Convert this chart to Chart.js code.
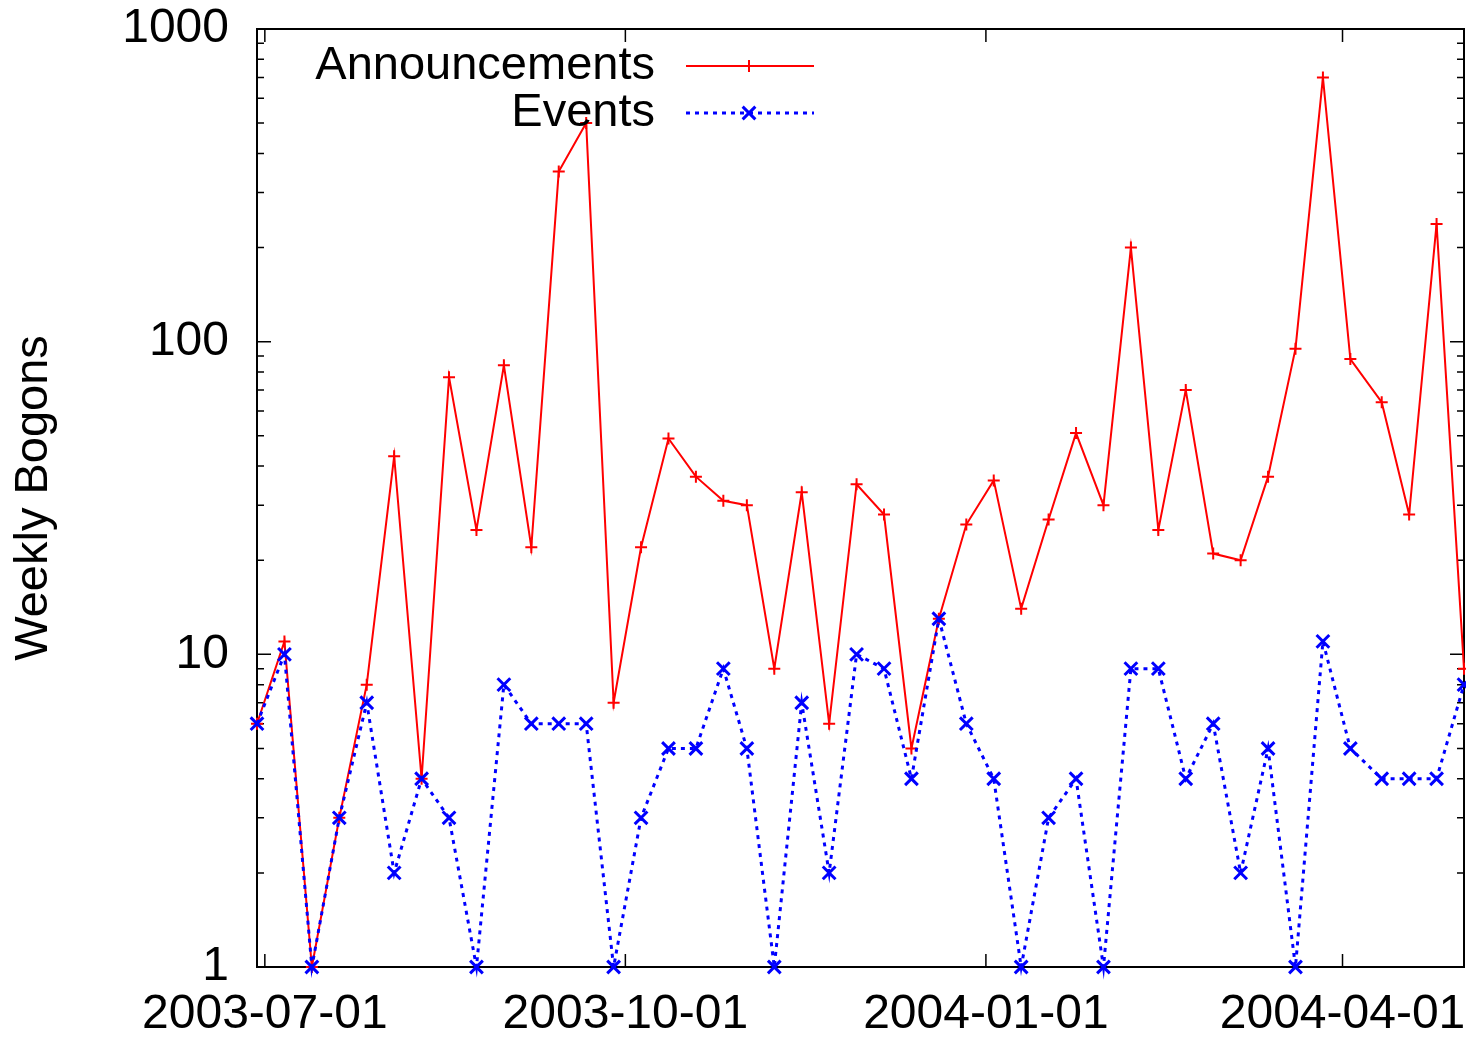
<!DOCTYPE html>
<html><head><meta charset="utf-8">
<script src="https://cdn.jsdelivr.net/npm/chart.js@4/dist/chart.umd.min.js"></script>
<style>html,body{margin:0;padding:0;background:#fff;} #wrap{width:1466px;height:1037px;}</style>
</head><body><div id="wrap"><canvas id="c" width="1466" height="1037"></canvas></div>
<script>
const weekDates = ['2003-06-29','2003-07-06','2003-07-13','2003-07-20','2003-07-27','2003-08-03','2003-08-10','2003-08-17','2003-08-24','2003-08-31',
  '2003-09-07','2003-09-14','2003-09-21','2003-09-28','2003-10-05','2003-10-12','2003-10-19','2003-10-26','2003-11-01','2003-11-08',
  '2003-11-15','2003-11-22','2003-11-29','2003-12-06','2003-12-13','2003-12-20','2003-12-27','2004-01-03','2004-01-10','2004-01-17',
  '2004-01-24','2004-01-31','2004-02-07','2004-02-14','2004-02-21','2004-02-28','2004-03-06','2004-03-13','2004-03-20','2004-03-27',
  '2004-04-03','2004-04-11','2004-04-18','2004-04-25','2004-05-02'];
const announcements = [6,11,1,3,8,43,4,77,25,84,22,350,500,7,22,49,37,31,30,9,33,6,35,28,5,13,26,36,14,27,51,30,200,25,70,21,20,37,95,700,88,64,28,238,9];
const events = [6,10,1,3,7,2,4,3,1,8,6,6,6,1,3,5,5,9,5,1,7,2,10,9,4,13,6,4,1,3,4,1,9,9,4,6,2,5,1,11,5,4,4,4,8];
const xTickLabels = ['2003-07-01','2003-10-01','2004-01-01','2004-04-01'];
const yTickLabels = ['1','10','100','1000'];
const seriesNames = ['Announcements','Events'];
const yAxisTitle = 'Weekly Bogons';

const FONT = '"Liberation Sans", Arial, Helvetica, sans-serif';
function dayNum(s){const p=s.split('-').map(Number);return Date.UTC(p[0],p[1]-1,p[2])/86400000;}
const xMin = dayNum(weekDates[0]), xMax = dayNum(weekDates[weekDates.length-1]);
const yMajor = yTickLabels.map(Number);
const yAll = [];
yMajor.forEach((v,i)=>{ if(i<yMajor.length-1){ for(let k=1;k<10;k++) yAll.push(v*k); } else yAll.push(v); });

const framePlugin = {
  id:'frame',
  beforeDatasetsDraw(chart){
    const {ctx, chartArea:a, scales:{x,y}} = chart;
    ctx.save();
    ctx.strokeStyle='#000'; ctx.lineWidth=1.5;
    ctx.beginPath();
    yAll.forEach(v=>{
      const p=y.getPixelForValue(v);
      const len = yMajor.includes(v) ? 14 : 7;
      ctx.moveTo(a.left,p); ctx.lineTo(a.left+len,p);
      ctx.moveTo(a.right,p); ctx.lineTo(a.right-len,p);
    });
    xTickLabels.forEach(s=>{
      const p=x.getPixelForValue(dayNum(s));
      ctx.moveTo(p,a.bottom); ctx.lineTo(p,a.bottom-13);
      ctx.moveTo(p,a.top); ctx.lineTo(p,a.top+13);
    });
    ctx.stroke();
    ctx.lineWidth=2;
    ctx.strokeRect(a.left,a.top,a.right-a.left,a.bottom-a.top);
    ctx.restore();
  }
};

const legendPlugin = {
  id:'gpLegend',
  afterDatasetsDraw(chart){
    const ctx=chart.ctx;
    chart.data.datasets.forEach((ds,i)=>{
      const yy = 66 + i*47;
      ctx.save();
      ctx.font = '47px '+FONT; ctx.fillStyle='#000'; ctx.textAlign='right'; ctx.textBaseline='middle';
      ctx.fillText(ds.label, 655, yy);
      ctx.strokeStyle=ds.borderColor; ctx.lineWidth=ds.borderWidth; ctx.setLineDash(ds.borderDash||[]);
      ctx.beginPath(); ctx.moveTo(686,yy); ctx.lineTo(814,yy); ctx.stroke();
      ctx.setLineDash([]);
      ctx.strokeStyle=ds.pointBorderColor; ctx.fillStyle=ds.pointBorderColor; ctx.lineWidth=ds.pointBorderWidth;
      Chart.helpers.drawPoint(ctx,{pointStyle:ds.pointStyle, radius:ds.pointRadius, borderWidth:ds.pointBorderWidth, rotation:0}, 749, yy);
      ctx.restore();
    });
  }
};

new Chart(document.getElementById('c'), {
  type:'line',
  data:{
    datasets:[
      {label:seriesNames[0], data:weekDates.map((d,i)=>({x:dayNum(d), y:announcements[i]})),
       borderColor:'#ff0000', backgroundColor:'#ff0000', borderWidth:2, pointStyle:'cross', pointRadius:6,
       pointBorderWidth:2, pointBorderColor:'#ff0000', pointBackgroundColor:'#ff0000', tension:0, clip:false, order:1},
      {label:seriesNames[1], data:weekDates.map((d,i)=>({x:dayNum(d), y:events[i]})),
       borderColor:'#0000ff', backgroundColor:'#0000ff', borderWidth:3, borderDash:[4,5], pointStyle:'crossRot', pointRadius:9,
       pointBorderWidth:3, pointBorderColor:'#0000ff', pointBackgroundColor:'#0000ff', tension:0, clip:false, order:0}
    ]
  },
  options:{
    responsive:false, animation:false, devicePixelRatio:1,
    layout:{autoPadding:false, padding:{top:29,right:2,left:0,bottom:0}},
    plugins:{legend:{display:false}, tooltip:{enabled:false}},
    scales:{
      x:{type:'linear', min:xMin, max:xMax, grid:{display:false, drawTicks:false}, border:{display:false},
         afterBuildTicks(s){ s.ticks = xTickLabels.map(t=>({value:dayNum(t)})); },
         afterFit(s){ s.height=70; s.paddingLeft=0; s.paddingRight=0; },
         ticks:{autoSkip:false, maxRotation:0, minRotation:0, padding:19, color:'#000', font:{family:FONT,size:48},
                callback:(v,i)=>xTickLabels[i]}},
      y:{type:'logarithmic', min:1, max:1000, grid:{display:false, drawTicks:false}, border:{display:false},
         afterBuildTicks(s){ s.ticks = yAll.map(v=>({value:v})); },
         afterFit(s){ s.width=257; s.paddingTop=0; s.paddingBottom=0; },
         ticks:{autoSkip:false, padding:28, color:'#000', font:{family:FONT,size:48},
                callback:(v)=>{ const i=yMajor.indexOf(v); return i>=0 ? yTickLabels[i] : ''; }},
         title:{display:true, text:yAxisTitle, color:'#000', font:{family:FONT,size:47}, padding:{top:6,bottom:0}}}
    }
  },
  plugins:[framePlugin, legendPlugin]
});
</script></body></html>
